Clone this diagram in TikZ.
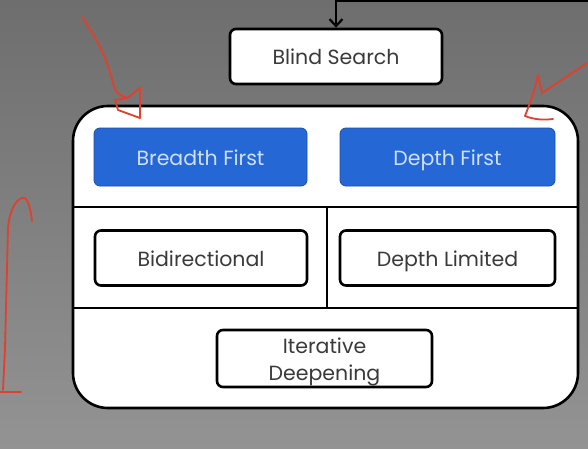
\documentclass[tikz,border=0pt]{standalone}
\usepackage{fontspec}
\setmainfont{Poppins}
\usetikzlibrary{arrows.meta}
\definecolor{bgtop}{HTML}{6E6E6E}
\definecolor{bgbottom}{HTML}{939393}
\definecolor{boxblue}{HTML}{2667D6}
\definecolor{boxblueline}{HTML}{1B4FA8}
\definecolor{bluetext}{HTML}{CFE0F7}
\definecolor{greytext}{HTML}{3A3A3A}
\definecolor{penred}{HTML}{E0402C}
\tikzset{
  plainbox/.style={draw=black,line width=2.6pt,fill=white,rounded corners=6pt,
    minimum width=212pt,minimum height=55pt,text=greytext,
    font=\fontsize{20.5}{27}\selectfont,inner sep=0pt,
    text height=16pt,text depth=0pt},
  bluebox/.style={plainbox,draw=boxblueline,line width=0.8pt,fill=boxblue,
    text=bluetext,minimum height=58pt},
  pen/.style={penred,line width=1.8pt,line cap=round,line join=round}
}
\begin{document}
\begin{tikzpicture}[x=1pt,y=1pt]
%background
\shade[top color=bgtop,bottom color=bgbottom] (0,0) rectangle (588,448);
\useasboundingbox (0,0) rectangle (588,448);
%outer frame
\path[draw,line width=2.6pt,fill=white,rounded corners=35pt] (73,40) rectangle (578,342);
\draw[line width=2.6pt] (73,241) -- (578,241);
\draw[line width=2.6pt] (73,140) -- (578,140);
\draw[line width=2.6pt] (327,241) -- (327,140);
%boxes
\node[plainbox] (blind) at (336,391.5) {Blind Search};
\node[bluebox,minimum width=213pt] (breadth) at (200.5,291) {Breadth First};
\node[bluebox,minimum width=215pt] (depth) at (447.5,291) {Depth First};
\node[plainbox] (bidir) at (201,190) {Bidirectional};
\node[plainbox,minimum width=215pt] (limited) at (447.5,190) {Depth Limited};
\node[plainbox,minimum width=215pt,minimum height=57pt,align=center,text height=43pt] (iter) at (324.5,89.5) {Iterative\\Deepening};
%incoming line
\coordinate (edgeR) at (588,447);
\coordinate (corner) at (336,447);
\draw[line width=2.6pt,-{Straight Barb[length=7pt,width=13pt,line width=2.2pt]}] (edgeR) -- (corner) -- (blind);
%red pen marks
\draw[pen] (82,431) .. controls (100,405) and (108,385) .. (113,365) .. controls (116,355) .. (127,350);
\draw[pen] (127,350) -- (140,360) -- (140,330) -- (118,338) -- (115,348) -- (127,350);
\draw[pen] (587,385) -- (542,355);
\draw[pen] (542,355) -- (538,373) .. controls (534,355) and (528,340) .. (525,332) .. controls (535,328) and (545,328) .. (553,329);
\draw[pen] (32,227) .. controls (30,245) and (26,252) .. (22,250) .. controls (15,248) and (9,235) .. (8,220) -- (5,100) -- (3,58);
\draw[pen] (0,56) -- (21,56);
\end{tikzpicture}
\end{document}
